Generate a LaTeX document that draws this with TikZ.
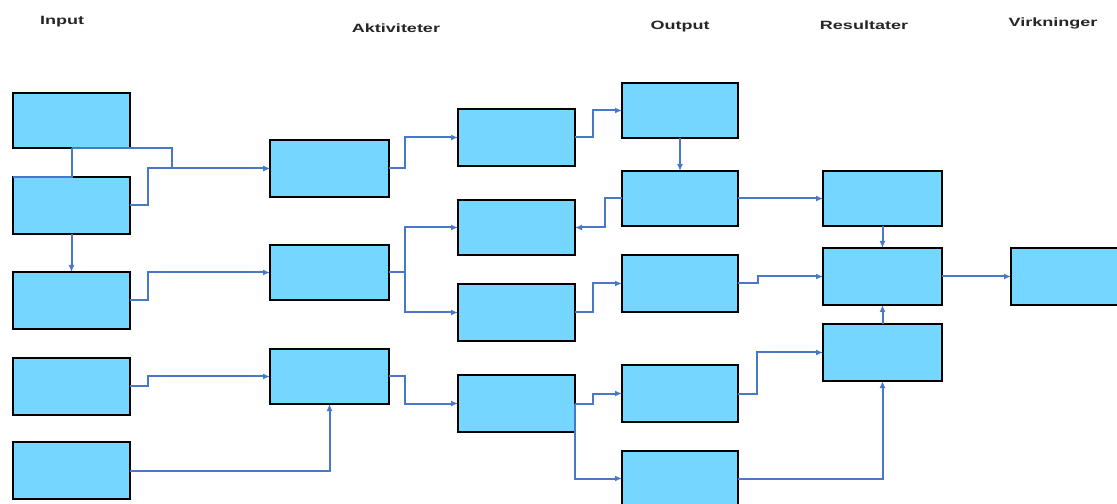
\documentclass[tikz,border=0pt]{standalone}
\usepackage{fontspec}
\setmainfont{Liberation Sans}
\usetikzlibrary{arrows.meta}
\definecolor{boxfill}{HTML}{75D7FF}
\definecolor{linkblue}{HTML}{4A78C8}
\tikzset{
  box/.style={draw=black, fill=boxfill, line width=2bp, inner sep=0pt, outer sep=0pt, minimum width=117bp, minimum height=56bp},
  wide/.style={box, minimum width=119bp},
  conn/.style={draw=linkblue, line width=2bp, -{Latex[length=7bp,width=6bp]}},
  plain/.style={draw=linkblue, line width=2bp},
  head/.style={anchor=base, inner sep=0pt, font=\fontsize{12bp}{14bp}\selectfont\bfseries, text=black!85}
}
\newcommand{\wtxt}[1]{\scalebox{1.5}[1]{#1}}
\begin{document}
\begin{tikzpicture}[x=1bp,y=-1bp]
\useasboundingbox[fill=white] (0,0) rectangle (1117,504);
% headings
\node[head] (hIn) at (62,25) {\wtxt{Input}};
\node[head] (hAk) at (396,33) {\wtxt{Aktiviteter}};
\node[head] (hOu) at (680,30) {\wtxt{Output}};
\node[head] (hRe) at (864,30) {\wtxt{Resultater}};
\node[head] (hVi) at (1053,27) {\wtxt{Virkninger}};
% input column
\node[box, minimum height=55bp] (I1) at (71.5,120.5) {};
\node[box, minimum height=57bp] (I2) at (71.5,205.5) {};
\node[box, minimum height=57bp] (I3) at (71.5,300.5) {};
\node[box, minimum height=57bp] (I4) at (71.5,386.5) {};
\node[box, minimum height=57bp] (I5) at (71.5,470.5) {};
% activities
\node[wide, minimum height=57bp] (A1) at (329.5,168.5) {};
\node[wide, minimum height=55bp] (A2) at (329.5,272.5) {};
\node[wide, minimum height=55bp] (A3) at (329.5,376.5) {};
% middle column
\node[box, minimum height=57bp] (B1) at (516.5,137.5) {};
\node[box, minimum height=55bp] (B2) at (516.5,227.5) {};
\node[box, minimum height=57bp] (B3) at (516.5,312.5) {};
\node[box, minimum height=57bp] (B4) at (516.5,403.5) {};
% output
\node[box, minimum width=116bp, minimum height=55bp] (O1) at (680,110.5) {};
\node[box, minimum width=116bp, minimum height=55bp] (O2) at (680,198.5) {};
\node[box, minimum width=116bp, minimum height=57bp] (O3) at (680,283.5) {};
\node[box, minimum width=116bp, minimum height=57bp] (O4) at (680,393.5) {};
\node[box, minimum width=116bp, minimum height=55bp] (O5) at (680,478.5) {};
% results
\node[wide, minimum height=55bp] (R1) at (882.5,198.5) {};
\node[wide, minimum height=57bp] (R2) at (882.5,276.5) {};
\node[wide, minimum height=57bp] (R3) at (882.5,352.5) {};
% impacts
\node[wide, minimum height=57bp] (V1) at (1070.5,276.5) {};
% connectors
\draw[plain] (I2.north west) -- (I2.north) -- (I1.south);
\draw[conn] (I1.south) -- ++(100,0) |- (A1.west);
\draw[conn] (I2.east) -- ++(18,0) |- (A1.west);
\draw[conn] (I2.south) -- (I3.north);
\draw[conn] (I3.east) -- ++(18,0) |- (A2.west);
\draw[conn] (I4.east) -- ++(18,0) |- (A3.west);
\draw[conn] (I5.east) -| (A3.south);
\draw[conn] (A1.east) -- ++(16,0) |- (B1.west);
\draw[conn] (A2.east) -- ++(16,0) coordinate (a2j) |- (B2.west);
\draw[conn] (a2j) |- (B3.west);
\draw[conn] (A3.east) -- ++(16,0) |- (B4.west);
\draw[conn] (B1.east) -- ++(18,0) |- (O1.west);
\draw[conn] (O1.south) -- (O2.north);
\draw[conn] (O2.west) -- ++(-17,0) |- (B2.east);
\draw[conn] (B3.east) -- ++(18,0) |- (O3.west);
\draw[conn] (B4.east) -- ++(18,0) |- (O4.west);
\draw[conn] (B4.east) |- (O5.west);
\draw[conn] (O2.east) -- (R1.west);
\draw[conn] (O3.east) -- ++(20,0) |- (R2.west);
\draw[conn] (O4.east) -- ++(19,0) |- (R3.west);
\draw[conn] (O5.east) -| (R3.south);
\draw[conn] (R1.south) -- (R2.north);
\draw[conn] (R3.north) -- (R2.south);
\draw[conn] (R2.east) -- (V1.west);
\end{tikzpicture}
\end{document}
